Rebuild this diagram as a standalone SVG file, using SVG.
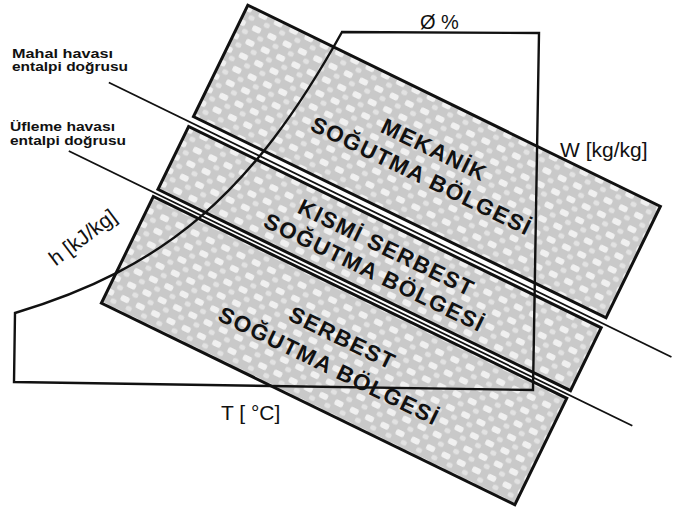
<svg xmlns="http://www.w3.org/2000/svg" width="673" height="508" viewBox="0 0 673 508">
<defs>
<pattern id="dots" width="17" height="15" patternUnits="userSpaceOnUse">
<rect width="17" height="15" fill="#c9c9c9"/>
<rect x="1" y="1" width="9" height="6" rx="2" fill="#f0f0f0"/>
<rect x="10" y="8.5" width="6" height="5" rx="2" fill="#e2e2e2"/>
</pattern>
<style>
.band{fill:url(#dots);stroke:#111;stroke-width:3}
.chart{fill:none;stroke:#111;stroke-width:2.4;stroke-linejoin:miter}
.guide{fill:none;stroke:#111;stroke-width:1.8}
.lbl{font-family:"Liberation Sans",Arial,sans-serif;fill:#111}
.small{font-family:"Liberation Sans",Arial,sans-serif;fill:#111;font-size:12.5px;font-weight:bold}
.zone{font-family:"Liberation Sans",Arial,sans-serif;font-weight:bold;font-size:22.5px;letter-spacing:1.4px;fill:#111;text-anchor:middle}
</style>
</defs>
<rect width="673" height="508" fill="#fff"/>
<g id="band-mekanik" transform="rotate(26)">
<rect class="band" x="225" y="-104" width="459" height="124"/>
<text class="zone" x="456" y="-48">MEKANİK</text>
<text class="zone" x="456" y="-19">SOĞUTMA BÖLGESİ</text>
</g>
<g id="band-kismi" transform="rotate(26)">
<rect class="band" x="225" y="31" width="459" height="70"/>
<text class="zone" x="456" y="61">KISMİ SERBEST</text>
<text class="zone" x="456" y="88.5">SOĞUTMA BÖLGESİ</text>
</g>
<g id="band-serbest" transform="rotate(26)">
<rect class="band" x="224" y="109.5" width="460" height="118.5"/>
<text class="zone" x="456" y="161.5">SERBEST</text>
<text class="zone" x="456" y="192.5">SOĞUTMA BÖLGESİ</text>
</g>
<g id="chart">
<path class="chart" d="M342,32 L539,33 L533,390 L14,382 L15,313 C165,268 252,194 342,32 Z"/>
<text class="lbl" x="420" y="29" font-size="20">Ø %</text>
<text class="lbl" x="560" y="157" font-size="21">W [kg/kg]</text>
<text class="lbl" x="221" y="420" font-size="21">T [ °C]</text>
<text class="lbl" font-size="21" text-anchor="middle" transform="translate(87,243) rotate(-37)">h [kJ/kg]</text>
</g>
<g id="connectors" transform="rotate(26)">
<line class="guide" x1="134" y1="26.5" x2="760" y2="26.5"/>
<line class="guide" x1="128" y1="105.5" x2="755" y2="105.5"/>
</g>
<g id="labels">
<text class="small" x="12" y="57.5" textLength="101" lengthAdjust="spacingAndGlyphs">Mahal havası</text>
<text class="small" x="12" y="71" textLength="116" lengthAdjust="spacingAndGlyphs">entalpi doğrusu</text>
<text class="small" x="10" y="130.5" textLength="105" lengthAdjust="spacingAndGlyphs">Üfleme havası</text>
<text class="small" x="10" y="144.5" textLength="116" lengthAdjust="spacingAndGlyphs">entalpi doğrusu</text>
</g>
</svg>
